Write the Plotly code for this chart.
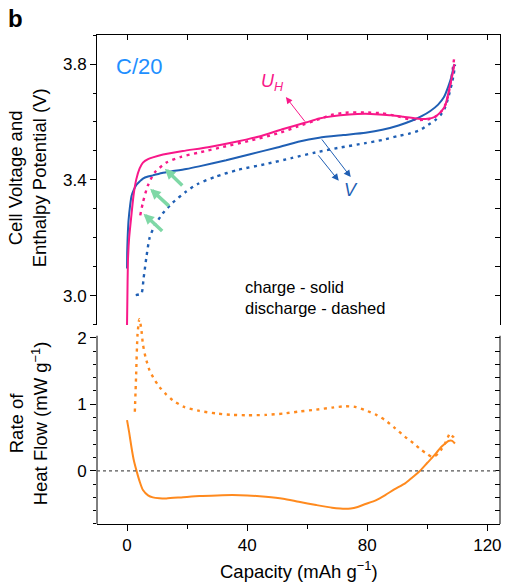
import plotly.graph_objects as go

# ---------------- data ----------------
cap_v_chg = [0, 0.05, 0.2, 0.5, 1.0, 1.5, 2.2, 3.1, 4.2, 5.3, 7, 8.6, 12, 15, 19.7, 24, 33, 41, 50, 57,
             64, 72, 79.4, 85, 90.4, 95, 98.1, 101, 103.6, 105.5, 107, 108, 108.9]
v_chg = [3.095, 3.15, 3.2, 3.26, 3.31, 3.345, 3.365, 3.383, 3.395, 3.405, 3.412, 3.416, 3.425, 3.43, 3.438,
         3.447, 3.468, 3.489, 3.512, 3.532, 3.546, 3.555, 3.563, 3.573, 3.588, 3.605, 3.62, 3.638, 3.66,
         3.685, 3.723, 3.755, 3.798]

cap_uh_chg = [0, 0.1, 0.3, 0.7, 1.45, 2.2, 3.1, 4.2, 5.3, 7, 8.6, 12, 18.6, 27, 35.1, 44, 51.7, 59.5,
              64, 68.3, 74, 79.4, 84, 88.2, 92, 97, 100, 102.5, 104.5, 105.9, 107.5, 108.6, 109]
uh_chg = [2.9, 2.98, 3.12, 3.2, 3.278, 3.35, 3.403, 3.44, 3.46, 3.472, 3.478, 3.488, 3.5, 3.513, 3.529,
          3.55, 3.575, 3.598, 3.612, 3.62, 3.626, 3.628, 3.626, 3.623, 3.618, 3.611, 3.611, 3.618, 3.635,
          3.655, 3.723, 3.775, 3.8]

cap_v_dis = [2.9, 4.8, 5.5, 6.4, 7.5, 9.2, 11.9, 15.2, 19.7, 23.5, 29.6, 37, 46.2, 55, 62.8, 71, 79.4, 85,
             90.4, 94, 97.5, 100.3, 102.5, 104.5, 105.9, 107, 108.1, 108.8, 109.2]
v_dis = [3.003, 3.009, 3.06, 3.13, 3.2, 3.243, 3.285, 3.322, 3.36, 3.386, 3.412, 3.435, 3.455, 3.476,
         3.495, 3.512, 3.527, 3.538, 3.552, 3.56, 3.572, 3.59, 3.605, 3.625, 3.65, 3.685, 3.73, 3.765, 3.798]

cap_uh_dis = [4.4, 5.3, 6.9, 9.2, 13.1, 18, 24.1, 32, 40.7, 50, 57, 64, 68, 72.7, 79, 84.9, 90, 94, 97,
              100.3, 102.5, 104.7, 106, 106.9, 108.1, 108.9]
uh_dis = [3.278, 3.323, 3.38, 3.426, 3.46, 3.48, 3.495, 3.514, 3.535, 3.56, 3.585, 3.61, 3.624, 3.632,
          3.633, 3.63, 3.62, 3.609, 3.607, 3.609, 3.617, 3.637, 3.66, 3.689, 3.757, 3.817]

cap_q_chg = [0, 0.7, 1.45, 2.2, 3.1, 4.2, 5.3, 7, 8.6, 10.8, 13.1, 18, 24.1, 30, 35.1, 40, 46.2, 52, 57.2,
             63, 68.3, 71, 72.7, 74.5, 76.5, 79.4, 83, 86, 89, 92.6, 95, 97.6, 100, 101.4, 103, 104.7, 106,
             107, 108.3, 109.2]
q_chg = [0.762, 0.58, 0.361, 0.17, 0.01, -0.16, -0.29, -0.37, -0.4, -0.412, -0.415, -0.4, -0.38, -0.37,
         -0.365, -0.37, -0.39, -0.42, -0.466, -0.515, -0.556, -0.568, -0.571, -0.566, -0.548, -0.5,
         -0.44, -0.365, -0.28, -0.19, -0.1, 0.0, 0.12, 0.186, 0.27, 0.361, 0.41, 0.447, 0.45, 0.41]

cap_q_dis = [2.6, 3.0, 3.5, 4.1, 4.7, 5.3, 6.2, 7.5, 9, 10.8, 13, 15.2, 19, 24.1, 30, 35.1, 40, 46.2, 52,
             57.2, 63, 68.3, 72.7, 76, 79.4, 83, 86, 89, 92.6, 95.5, 98.1, 100, 101.4, 102.5, 103.6, 104.8,
             105.9, 106.8, 107.5, 108.1, 108.6, 109]
q_dis = [0.887, 1.4, 2.05, 2.28, 2.15, 1.9, 1.7, 1.51, 1.38, 1.26, 1.15, 1.06, 0.96, 0.9, 0.86, 0.84,
         0.835, 0.84, 0.86, 0.89, 0.92, 0.95, 0.97, 0.96, 0.91, 0.84, 0.76, 0.65, 0.51, 0.41, 0.31, 0.25,
         0.21, 0.22, 0.26, 0.33, 0.41, 0.5, 0.56, 0.53, 0.51, 0.48]

x_ticks = [0, 40, 80, 120]
v_ticks = [3.0, 3.4, 3.8]
q_ticks = [0, 1, 2]
q_minor_ticks = [-0.8, -0.6, -0.4, -0.2, 0.0, 0.2, 0.4, 0.6, 0.8, 1.0, 1.2, 1.4, 1.6, 1.8, 2.0]

# ---------------- styling ----------------
BLUE = "#1f5fb4"
MAG = "#f81889"
ORG = "#ff8a1e"
GREEN = "#7fd8a6"
FONT = "Arial, 'Liberation Sans', sans-serif"
DOTS = "3px,4.5px"
TICK_SIZE = 17
TITLE_SIZE = 18.5

fig = go.Figure()

def add(x, y, color, dash, xa, ya, w=2):
    fig.add_trace(go.Scatter(x=x, y=y, mode="lines", xaxis=xa, yaxis=ya, showlegend=False,
                             hoverinfo="skip",
                             line=dict(color=color, width=w, dash=dash, shape="spline", smoothing=0.6)))

add(cap_v_dis, v_dis, BLUE, DOTS, "x2", "y", 2.4)
add(cap_uh_dis, uh_dis, MAG, DOTS, "x2", "y", 2.4)
add(cap_v_chg, v_chg, BLUE, "solid", "x2", "y", 2)
add(cap_uh_chg, uh_chg, MAG, "solid", "x2", "y", 2)
add(cap_q_dis, q_dis, ORG, DOTS, "x", "y2", 2.4)
add(cap_q_chg, q_chg, ORG, "solid", "x", "y2", 2)
# dummy traces so the right-hand mirror axes are drawn
fig.add_trace(go.Scatter(x=[None], y=[None], xaxis="x2", yaxis="y3", showlegend=False))
fig.add_trace(go.Scatter(x=[None], y=[None], xaxis="x", yaxis="y4", showlegend=False))

XR = [-10, 124.2]
QR = [-0.8, 2.3]
Q_LINE_TOP = 2.03
TOP_DOM = [0.407, 1.0]
BOT_DOM = [0.0, 0.4217]
tickfont = dict(family=FONT, size=TICK_SIZE, color="black")
axline = dict(showline=True, linecolor="black", linewidth=1, showgrid=False, zeroline=False)
noline = dict(showline=False, showgrid=False, zeroline=False)

fig.update_layout(
    width=505, height=584,
    margin=dict(l=97, r=3, t=35, b=60),
    paper_bgcolor="white", plot_bgcolor="rgba(0,0,0,0)",
    font=dict(family=FONT, size=16, color="black"),
    xaxis=dict(domain=[0, 1], anchor="y2", range=XR, tickmode="array", tickvals=x_ticks,
               ticks="outside", ticklen=6, tickcolor="black", tickfont=tickfont,
               minor=dict(dtick=20, tick0=0, ticks="outside", ticklen=4, tickcolor="black"),
               **axline),
    xaxis2=dict(domain=[0, 1], anchor="y", range=XR, side="top", showticklabels=False,
                tickmode="linear", tick0=0, dtick=20, ticks="inside", ticklen=5, tickcolor="black",
                **axline),
    yaxis=dict(domain=TOP_DOM, anchor="x2", range=[2.9, 3.9], tickmode="array", tickvals=v_ticks,
               ticktext=[f"{v:.1f}" for v in v_ticks],
               ticks="outside", ticklen=6, tickcolor="black", tickfont=tickfont,
               minor=dict(tick0=2.9, dtick=0.1, ticks="outside", ticklen=3, tickcolor="black"),
               **axline),
    yaxis3=dict(overlaying="y", anchor="x2", side="right", range=[2.9, 3.9], showticklabels=False,
                tickmode="linear", tick0=2.9, dtick=0.1, ticks="inside", ticklen=5, tickcolor="black",
                **axline),
    yaxis2=dict(domain=BOT_DOM, anchor="x", range=QR, tickmode="array", tickvals=q_ticks,
                ticks="outside", ticklen=6, tickcolor="black", tickfont=tickfont,
                minor=dict(tickmode="array", tickvals=q_minor_ticks, ticks="outside", ticklen=3,
                           tickcolor="black"),
                **noline),
    yaxis4=dict(overlaying="y2", anchor="x", side="right", range=QR, showticklabels=False,
                tickmode="array", tickvals=q_minor_ticks, ticks="inside", ticklen=5, tickcolor="black",
                **noline),
)

# axis lines of the heat-flow panel (stop short of the panel top, like the original)
for xd in (0, 1):
    fig.add_shape(type="line", xref="x domain", yref="y2", x0=xd, x1=xd, y0=QR[0], y1=Q_LINE_TOP,
                  line=dict(color="black", width=1))
# zero line in heat-flow panel
fig.add_shape(type="line", xref="x domain", yref="y2", x0=0, x1=1, y0=0, y1=0,
              line=dict(color="#555555", width=1.3, dash="dot"))

ann = []
# axis titles
ann.append(dict(xref="paper", yref="paper", x=(27 - 97) / 405, y=(524 - 178) / 489, textangle=-90,
                text="Cell Voltage and<br>Enthalpy Potential (V)", showarrow=False,
                font=dict(size=TITLE_SIZE), xanchor="center", yanchor="middle"))
ann.append(dict(xref="paper", yref="paper", x=(29 - 97) / 405, y=(524 - 423) / 489, textangle=-90,
                text="Rate of<br>Heat Flow (mW g<sup>\u22121</sup>)", showarrow=False,
                font=dict(size=TITLE_SIZE), xanchor="center", yanchor="middle"))
ann.append(dict(xref="paper", yref="paper", x=(300 - 97) / 405, y=-(570 - 524) / 489,
                text="Capacity (mAh g<sup>\u22121</sup>)", showarrow=False,
                font=dict(size=TITLE_SIZE), xanchor="center", yanchor="middle"))
ann.append(dict(xref="paper", yref="paper", x=(15 - 97) / 405, y=(524 - 19) / 489,
                text="<b>b</b>", showarrow=False, font=dict(size=24), xanchor="center", yanchor="middle"))
# in-plot labels
ann.append(dict(xref="x2", yref="y", x=3.9, y=3.79, text="C/20", showarrow=False,
                font=dict(size=22, color="#1e8fff"), xanchor="center", yanchor="middle"))
ann.append(dict(xref="x2", yref="y", x=38.7, y=3.031, text="charge - solid", showarrow=False,
                font=dict(size=16.5), xanchor="left", yanchor="middle"))
ann.append(dict(xref="x2", yref="y", x=38.7, y=2.959, text="discharge - dashed", showarrow=False,
                font=dict(size=16.5), xanchor="left", yanchor="middle"))
ann.append(dict(xref="x2", yref="y", x=48.5, y=3.735, text="<i>U</i><sub><i>H</i></sub>", showarrow=False,
                font=dict(size=18, color=MAG), xanchor="center", yanchor="middle"))
ann.append(dict(xref="x2", yref="y", x=74.5, y=3.366, text="<i>V</i>", showarrow=False,
                font=dict(size=18, color=BLUE), xanchor="center", yanchor="middle"))

def arrow(head, tail, color, width, size):
    ann.append(dict(xref="x2", yref="y", axref="x2", ayref="y", x=head[0], y=head[1],
                    ax=tail[0], ay=tail[1], text="", showarrow=True, arrowhead=2,
                    arrowsize=size, arrowwidth=width, arrowcolor=color, standoff=0, startstandoff=0))

arrow((52.9, 3.686), (59.6, 3.597), MAG, 1, 1.3)
arrow((74.5, 3.41), (64.5, 3.545), BLUE, 1, 1.4)
arrow((70.5, 3.397), (63.3, 3.49), BLUE, 1, 1.4)
arrow((12.6, 3.439), (18.9, 3.376), GREEN, 3.5, 0.6)
arrow((7.7, 3.370), (14.4, 3.306), GREEN, 3.5, 0.6)
arrow((5.5, 3.284), (12.2, 3.219), GREEN, 3.5, 0.6)

fig.update_layout(annotations=ann)
fig.write_html("out.html", config={"displayModeBar": False},
               post_script="document.body.style.margin='0';document.body.style.padding='0';")
